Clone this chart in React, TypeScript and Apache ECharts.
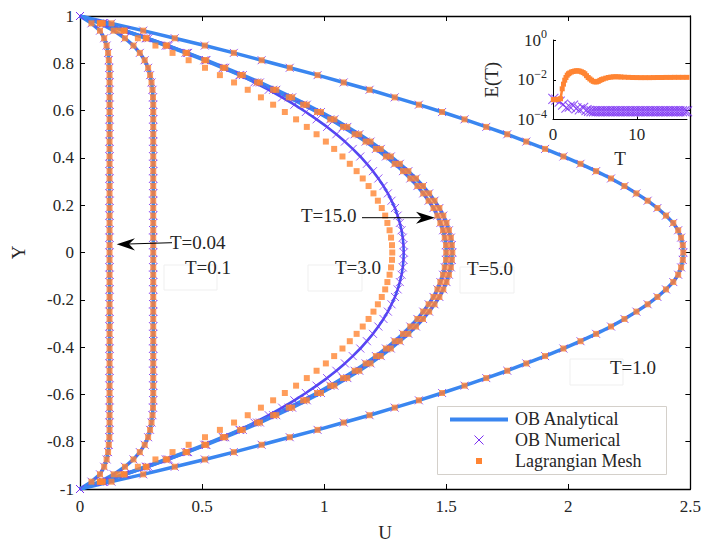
import React, { useEffect, useRef } from 'react';
import * as echarts from 'echarts';

// Mesh node heights (upper half, wall to centreline); the profiles are symmetric about Y = 0
const YN = [1, 0.969, 0.938, 0.906, 0.875, 0.844, 0.813, 0.781, 0.75, 0.719, 0.688, 0.656, 0.625, 0.594, 0.563, 0.531, 0.5, 0.469, 0.438, 0.406, 0.375, 0.344, 0.313, 0.281, 0.25, 0.219, 0.188, 0.156, 0.125, 0.094, 0.063, 0.031, 0];

// Velocity U at the nodes above, for each time
const U_T004 = [0, 0.047, 0.082, 0.099, 0.109, 0.115, 0.118, 0.12, 0.121, 0.121, 0.121, 0.121, 0.121, 0.121, 0.121, 0.121, 0.121, 0.121, 0.121, 0.121, 0.121, 0.121, 0.121, 0.121, 0.121, 0.121, 0.121, 0.121, 0.121, 0.121, 0.121, 0.121, 0.121];
const U_T01 = [0, 0.082, 0.138, 0.184, 0.219, 0.245, 0.265, 0.279, 0.287, 0.293, 0.297, 0.299, 0.3, 0.3, 0.3, 0.3, 0.3, 0.3, 0.3, 0.3, 0.3, 0.3, 0.3, 0.3, 0.3, 0.3, 0.3, 0.3, 0.3, 0.3, 0.3, 0.3, 0.3];
const U_T1 = [0, 0.129, 0.259, 0.388, 0.511, 0.63, 0.744, 0.859, 0.973, 1.08, 1.186, 1.289, 1.388, 1.483, 1.575, 1.664, 1.75, 1.828, 1.905, 1.98, 2.05, 2.114, 2.175, 2.23, 2.279, 2.325, 2.365, 2.4, 2.43, 2.45, 2.462, 2.469, 2.471];
const U_T3 = [0, 0.098, 0.19, 0.281, 0.364, 0.443, 0.516, 0.588, 0.653, 0.714, 0.773, 0.828, 0.878, 0.925, 0.969, 1.012, 1.05, 1.085, 1.117, 1.148, 1.175, 1.2, 1.222, 1.243, 1.261, 1.276, 1.29, 1.301, 1.31, 1.317, 1.322, 1.325, 1.326];
const U_T5 = [0, 0.093, 0.183, 0.273, 0.357, 0.439, 0.517, 0.595, 0.667, 0.737, 0.804, 0.869, 0.929, 0.987, 1.042, 1.095, 1.144, 1.19, 1.232, 1.273, 1.31, 1.345, 1.376, 1.405, 1.43, 1.452, 1.472, 1.488, 1.501, 1.511, 1.519, 1.523, 1.525];
const U_T15 = [0, 0.092, 0.18, 0.269, 0.351, 0.432, 0.509, 0.585, 0.656, 0.725, 0.791, 0.855, 0.914, 0.971, 1.025, 1.077, 1.125, 1.17, 1.212, 1.253, 1.289, 1.323, 1.353, 1.382, 1.406, 1.428, 1.448, 1.464, 1.476, 1.487, 1.494, 1.499, 1.5];
// Lagrangian mesh at T = 3.0 (differs from the analytical profile)
const MESH_T3 = [0, 0.081, 0.159, 0.237, 0.309, 0.379, 0.445, 0.512, 0.573, 0.631, 0.687, 0.741, 0.791, 0.839, 0.885, 0.929, 0.969, 1.007, 1.041, 1.075, 1.105, 1.133, 1.158, 1.182, 1.202, 1.22, 1.236, 1.25, 1.259, 1.268, 1.274, 1.278, 1.279];

// Inset: error E(T) vs T
const INSET_MESH = [[0.04, 1.0e-3], [0.3, 1.0e-3], [0.6, 1.05e-3], [0.9, 1.1e-3], [1.1, 3.5e-3], [1.25, 6.0e-3], [1.4, 9.5e-3], [1.55, 1.3e-2], [1.7, 1.7e-2], [1.85, 2.0e-2], [2.0, 2.2e-2], [2.2, 2.45e-2], [2.4, 2.6e-2], [2.6, 2.75e-2], [2.8, 2.8e-2], [3.0, 2.8e-2], [3.2, 2.7e-2], [3.4, 2.5e-2], [3.6, 2.3e-2], [3.8, 2.0e-2], [4.0, 1.6e-2], [4.2, 1.3e-2], [4.4, 1.1e-2], [4.6, 9.5e-3], [4.8, 8.3e-3], [5.0, 7.8e-3], [5.2, 7.8e-3], [5.4, 8.3e-3], [5.6, 9.3e-3], [5.8, 1.02e-2], [6.0, 1.1e-2], [6.3, 1.2e-2], [6.6, 1.3e-2], [6.9, 1.36e-2], [7.2, 1.4e-2], [7.5, 1.42e-2], [7.8, 1.4e-2], [8.1, 1.38e-2], [8.5, 1.35e-2], [9, 1.32e-2], [9.5, 1.3e-2], [10, 1.29e-2], [10.5, 1.28e-2], [11, 1.28e-2], [11.5, 1.28e-2], [12, 1.29e-2], [12.5, 1.3e-2], [13, 1.3e-2], [13.5, 1.31e-2], [14, 1.31e-2], [14.5, 1.32e-2], [15, 1.32e-2], [15.5, 1.32e-2], [16, 1.32e-2]];
const INSET_NUM = [[0.04, 1.1e-3], [0.4, 1.0e-3], [0.8, 8.0e-4], [1.2, 5.6e-4], [1.6, 4.0e-4], [2.0, 4.5e-4], [2.4, 5.0e-4], [2.8, 3.6e-4], [3.2, 3.2e-4], [3.6, 3.8e-4], [4.0, 3.0e-4], [4.3, 2.7e-4], [4.6, 2.6e-4], [4.9, 2.6e-4], [5.2, 2.6e-4], [5.5, 2.6e-4], [5.8, 2.6e-4], [6.1, 2.6e-4], [6.4, 2.6e-4], [6.7, 2.6e-4], [7.0, 2.6e-4], [7.3, 2.6e-4], [7.6, 2.6e-4], [7.9, 2.6e-4], [8.2, 2.6e-4], [8.5, 2.6e-4], [8.8, 2.6e-4], [9.1, 2.6e-4], [9.4, 2.6e-4], [9.7, 2.6e-4], [10.0, 2.6e-4], [10.3, 2.6e-4], [10.6, 2.6e-4], [10.9, 2.6e-4], [11.2, 2.6e-4], [11.5, 2.6e-4], [11.8, 2.6e-4], [12.1, 2.6e-4], [12.4, 2.6e-4], [12.7, 2.6e-4], [13.0, 2.6e-4], [13.3, 2.6e-4], [13.6, 2.6e-4], [13.9, 2.6e-4], [14.2, 2.6e-4], [14.5, 2.6e-4], [14.8, 2.6e-4], [15.1, 2.6e-4], [15.4, 2.6e-4], [15.7, 2.6e-4], [16.0, 2.6e-4]];

const X_TICKS = { min: 0, max: 2.5, interval: 0.5 };
const Y_TICKS = { min: -1, max: 1, interval: 0.2 };

const BLUE = '#3a86f0';
const DARKBLUE = '#4650f2';
const PURPLE = '#7b2ff2';
const ORANGE = '#ff8432';
const INK = '#262626';
const FONT = 'Liberation Serif';
const CROSS = 'path://M0 0L10 10M10 0L0 10';

function mirror(top: number[]): number[][] {
  const out: number[][] = [];
  for (let i = 0; i < top.length; i++) out.push([top[i], YN[i]]);
  for (let i = top.length - 2; i >= 0; i--) out.push([top[i], -YN[i]]);
  return out;
}

const PROFILES = [
  { u: U_T004, mesh: U_T004, dark: false },
  { u: U_T01, mesh: U_T01, dark: false },
  { u: U_T1, mesh: U_T1, dark: false },
  { u: U_T3, mesh: MESH_T3, dark: true },
  { u: U_T5, mesh: U_T5, dark: false },
  { u: U_T15, mesh: U_T15, dark: false },
];

export default function App() {
  const ref = useRef<HTMLDivElement>(null);
  useEffect(() => {
    const chart = echarts.init(ref.current!, null, { renderer: 'svg' });
    const axisLine = { show: true, onZero: false, lineStyle: { color: '#000', width: 1.3 } };
    const tick = { show: true, inside: true, length: 5, lineStyle: { color: '#000', width: 1 } };
    const lbl = { fontFamily: FONT, fontSize: 17, color: INK };

    const series: any[] = [];
    PROFILES.forEach((p) => {
      series.push({
        type: 'line', xAxisIndex: 0, yAxisIndex: 0, data: mirror(p.u), showSymbol: false, symbol: 'none',
        lineStyle: { color: p.dark ? DARKBLUE : BLUE, width: p.dark ? 2.6 : 3.5 }, z: 2, silent: true,
      });
    });
    PROFILES.forEach((p) => {
      series.push({
        type: 'scatter', xAxisIndex: 0, yAxisIndex: 0, data: mirror(p.u), symbol: CROSS, symbolSize: 8,
        itemStyle: { color: 'rgba(0,0,0,0)', borderColor: PURPLE, borderWidth: 1 }, z: 3, silent: true,
      });
    });
    PROFILES.forEach((p) => {
      series.push({
        type: 'scatter', xAxisIndex: 0, yAxisIndex: 0, data: mirror(p.mesh).slice(1, -1), symbol: 'rect', symbolSize: 6,
        itemStyle: { color: ORANGE }, z: 4, silent: true,
      });
    });
    series.push({
      type: 'scatter', xAxisIndex: 2, yAxisIndex: 2, data: INSET_NUM.map((d) => [d[0], Math.log10(d[1])]),
      symbol: CROSS, symbolSize: 10, itemStyle: { color: 'rgba(0,0,0,0)', borderColor: PURPLE, borderWidth: 1.1 }, z: 5, silent: true,
    });
    series.push({
      type: 'line', xAxisIndex: 2, yAxisIndex: 2, data: INSET_MESH.map((d) => [d[0], Math.log10(d[1])]),
      symbol: 'rect', symbolSize: 5, showSymbol: true, itemStyle: { color: ORANGE },
      lineStyle: { color: ORANGE, width: 2.5 }, z: 6, silent: true,
    });

    const text = (s: string, x: number, y: number, size = 19) => ({
      type: 'text', x, y, z: 100, silent: true,
      style: { text: s, font: `${size}px "${FONT}"`, fill: INK, align: 'left', verticalAlign: 'middle', textAlign: 'left', textVerticalAlign: 'middle' },
    });
    const faint = (x: number, y: number, w: number, h: number) => ({
      type: 'rect', z: 90, silent: true, shape: { x, y, width: w, height: h }, style: { fill: 'none', stroke: '#efefef', lineWidth: 1 },
    });

    const option: any = {
      animation: false,
      backgroundColor: '#fff',
      grid: [
        { left: 80, top: 16, right: 13, bottom: 50 },
        { left: 553, top: 40, right: 17, bottom: 427.5 },
      ],
      xAxis: [
        {
          gridIndex: 0, type: 'value', ...X_TICKS, position: 'bottom', axisLine, axisTick: tick, splitLine: { show: false },
          axisLabel: { ...lbl, margin: 9 }, name: 'U', nameLocation: 'middle', nameGap: 34,
          nameTextStyle: { fontFamily: FONT, fontSize: 19, color: INK },
        },
        { gridIndex: 0, type: 'value', ...X_TICKS, position: 'top', axisLine, axisTick: tick, splitLine: { show: false }, axisLabel: { show: false } },
        {
          gridIndex: 1, type: 'value', min: 0, max: 16, interval: 10, position: 'bottom',
          axisLine: { show: true, onZero: false, lineStyle: { color: '#000', width: 1 } },
          axisTick: { show: true, inside: true, length: 3, lineStyle: { color: '#000' } }, splitLine: { show: false },
          axisLabel: { ...lbl, margin: 6, showMaxLabel: false }, name: 'T', nameLocation: 'middle', nameGap: 29,
          nameTextStyle: { fontFamily: FONT, fontSize: 19, color: INK },
        },
      ],
      yAxis: [
        {
          gridIndex: 0, type: 'value', ...Y_TICKS, position: 'left', axisLine, axisTick: tick, splitLine: { show: false },
          axisLabel: { ...lbl, margin: 6 }, name: 'Y', nameLocation: 'middle', nameGap: 52, nameRotate: 90,
          nameTextStyle: { fontFamily: FONT, fontSize: 19, color: INK },
        },
        { gridIndex: 0, type: 'value', ...Y_TICKS, position: 'right', axisLine, axisTick: tick, splitLine: { show: false }, axisLabel: { show: false } },
        {
          gridIndex: 1, type: 'value', min: -4, max: 0, interval: 2, position: 'left',
          axisLine: { show: true, onZero: false, lineStyle: { color: '#000', width: 1 } },
          axisTick: { show: true, inside: true, length: 3, lineStyle: { color: '#000' } }, splitLine: { show: false },
          axisLabel: {
            margin: 6,
            formatter: (v: number) => `{b|10}{s|${v === 0 ? '0' : '\u2212' + Math.abs(v)}}`,
            rich: {
              b: { fontFamily: FONT, fontSize: 17, color: INK, lineHeight: 24 },
              s: { fontFamily: FONT, fontSize: 12, color: INK, verticalAlign: 'top' },
            },
          },
          name: 'E(T)', nameLocation: 'middle', nameGap: 52, nameRotate: 90,
          nameTextStyle: { fontFamily: FONT, fontSize: 19, color: INK },
        },
      ],
      series,
      graphic: {
        elements: [
          // annotations
          faint(164, 265, 53, 25), faint(308, 265, 54, 26), faint(460, 267, 54, 26), faint(570, 359, 53, 26),
          text('T=0.04', 170, 242),
          text('T=0.1', 185, 267),
          text('T=3.0', 335, 267),
          text('T=5.0', 467, 268),
          text('T=15.0', 301, 215),
          text('T=1.0', 610, 367),
          { type: 'line', z: 100, silent: true, shape: { x1: 172, y1: 242.7, x2: 128, y2: 244 }, style: { stroke: '#000', lineWidth: 1 } },
          { type: 'polygon', z: 100, silent: true, shape: { points: [[116.7, 244.3], [135, 238.3], [129, 244.1], [135, 250.4]] }, style: { fill: '#000' } },
          { type: 'line', z: 100, silent: true, shape: { x1: 362, y1: 217.7, x2: 422, y2: 217.7 }, style: { stroke: '#000', lineWidth: 1 } },
          { type: 'polygon', z: 100, silent: true, shape: { points: [[435, 217.7], [416, 211.7], [421.5, 217.7], [416, 223.7]] }, style: { fill: '#000' } },
          // legend
          { type: 'rect', z: 110, silent: true, shape: { x: 437.5, y: 406.5, width: 229, height: 68 }, style: { fill: '#fff', stroke: '#d4d0ca', lineWidth: 1 } },
          { type: 'line', z: 111, silent: true, shape: { x1: 450, y1: 419.5, x2: 508, y2: 419.5 }, style: { stroke: BLUE, lineWidth: 4 } },
          { type: 'line', z: 111, silent: true, shape: { x1: 474.5, y1: 435.5, x2: 483.5, y2: 444.5 }, style: { stroke: PURPLE, lineWidth: 1 } },
          { type: 'line', z: 111, silent: true, shape: { x1: 483.5, y1: 435.5, x2: 474.5, y2: 444.5 }, style: { stroke: PURPLE, lineWidth: 1 } },
          { type: 'rect', z: 111, silent: true, shape: { x: 476, y: 458, width: 6, height: 6 }, style: { fill: ORANGE } },
          { ...text('OB Analytical', 515, 419, 18), z: 112 },
          { ...text('OB Numerical', 515, 440, 18), z: 112 },
          { ...text('Lagrangian Mesh', 515, 461, 18), z: 112 },
        ],
      },
    };
    chart.setOption(option);
    return () => chart.dispose();
  }, []);
  return <div ref={ref} style={{ position: 'fixed', left: 0, top: 0, width: 704, height: 547, background: '#fff' }} />;
}
